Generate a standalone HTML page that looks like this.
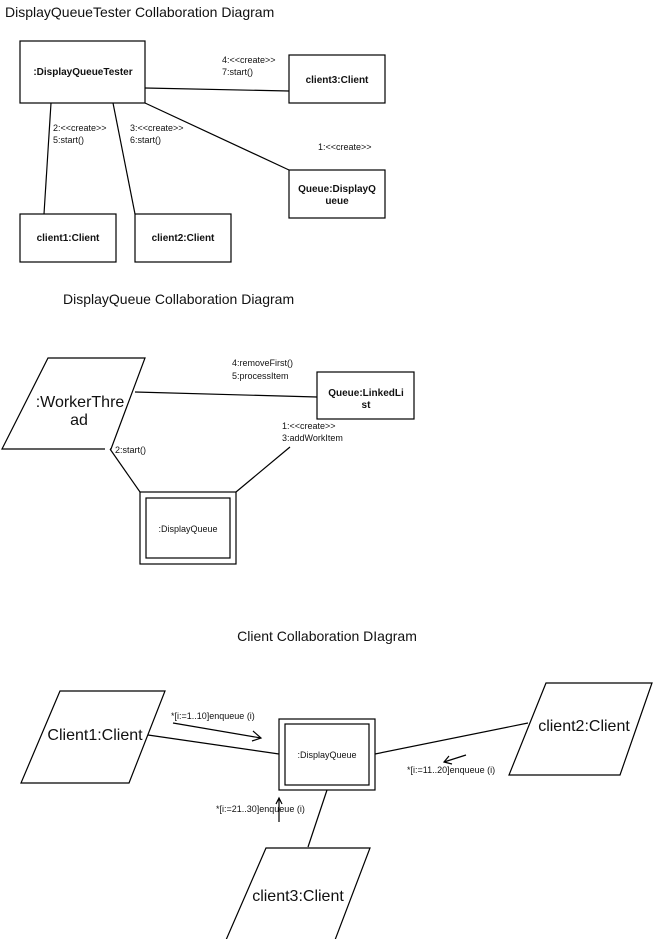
<!DOCTYPE html>
<html><head><meta charset="utf-8"><style>
html,body{margin:0;padding:0;background:#fff;}
svg{display:block;}
text{font-family:"Liberation Sans",sans-serif;fill:#111;}
</style></head><body>
<svg width="654" height="939" viewBox="0 0 654 939" xmlns="http://www.w3.org/2000/svg">
<g stroke="#000" stroke-width="1.2" fill="none">
<rect x="20" y="41" width="125" height="62"/>
<rect x="289" y="55" width="96" height="48"/>
<rect x="289" y="170" width="96" height="48"/>
<rect x="20" y="214" width="96" height="48"/>
<rect x="135" y="214" width="96" height="48"/>
<line x1="145" y1="88" x2="289" y2="91"/>
<line x1="145" y1="103" x2="289" y2="170"/>
<line x1="51" y1="103" x2="44" y2="214"/>
<line x1="113" y1="103" x2="135" y2="214"/>
<polyline points="105,449 2,449 48,358 145,358 111,449 110,449"/>
<rect x="317" y="372" width="97" height="47"/>
<line x1="135" y1="392" x2="317" y2="397"/>
<rect x="140" y="492" width="96" height="72"/>
<rect x="146" y="498" width="84" height="60"/>
<line x1="110" y1="449" x2="140" y2="492"/>
<line x1="290" y1="447" x2="236" y2="492"/>
<polygon points="60,691 165,691 129,783 21,783"/>
<rect x="279" y="719" width="96" height="71"/>
<rect x="285" y="724" width="84" height="61"/>
<polygon points="546,683 652,683 620,775 509,775"/>
<polygon points="266,848 370,848 335,940 226,940"/>
<line x1="148" y1="735" x2="279" y2="754"/>
<line x1="375" y1="754" x2="528" y2="723"/>
<line x1="327" y1="790" x2="308" y2="847"/>
<line x1="173" y1="723" x2="261" y2="738"/>
<polyline points="253,731 261,738 252,741"/>
<line x1="466" y1="755" x2="444" y2="762"/>
<polyline points="449,756 444,762 452,764"/>
<line x1="279" y1="822" x2="279" y2="799"/>
<polyline points="276,804 279,798 282,804"/>
</g>
<g font-size="14">
<text x="5" y="17">DisplayQueueTester Collaboration Diagram</text>
<text x="63" y="304">DisplayQueue Collaboration Diagram</text>
<text x="327" y="641" text-anchor="middle">Client Collaboration DIagram</text>
</g>
<g font-size="10" font-weight="bold" text-anchor="middle">
<text x="83" y="75">:DisplayQueueTester</text>
<text x="337" y="83">client3:Client</text>
<text x="337" y="192">Queue:DisplayQ</text>
<text x="337" y="204">ueue</text>
<text x="68" y="241">client1:Client</text>
<text x="183" y="241">client2:Client</text>
<text x="366" y="396">Queue:LinkedLi</text>
<text x="366" y="408">st</text>
</g>
<g font-size="9">
<text x="222" y="63">4:&lt;&lt;create&gt;&gt;</text>
<text x="222" y="75">7:start()</text>
<text x="53" y="131">2:&lt;&lt;create&gt;&gt;</text>
<text x="53" y="143">5:start()</text>
<text x="130" y="131">3:&lt;&lt;create&gt;&gt;</text>
<text x="130" y="143">6:start()</text>
<text x="318" y="150">1:&lt;&lt;create&gt;&gt;</text>
<text x="232" y="366">4:removeFirst()</text>
<text x="232" y="379">5:processItem</text>
<text x="282" y="429">1:&lt;&lt;create&gt;&gt;</text>
<text x="282" y="441">3:addWorkItem</text>
<text x="115" y="453">2:start()</text>
<text x="188" y="532" text-anchor="middle">:DisplayQueue</text>
<text x="327" y="758" text-anchor="middle">:DisplayQueue</text>
<text x="171" y="719">*[i:=1..10]enqueue (i)</text>
<text x="407" y="773">*[i:=11..20]enqueue (i)</text>
<text x="216" y="812">*[i:=21..30]enqueue (i)</text>
</g>
<g font-size="16" text-anchor="middle">
<text x="80" y="407">:WorkerThre</text>
<text x="79" y="425">ad</text>
<text x="95" y="740">Client1:Client</text>
<text x="584" y="731">client2:Client</text>
<text x="298" y="901">client3:Client</text>
</g>
</svg>
</body></html>
